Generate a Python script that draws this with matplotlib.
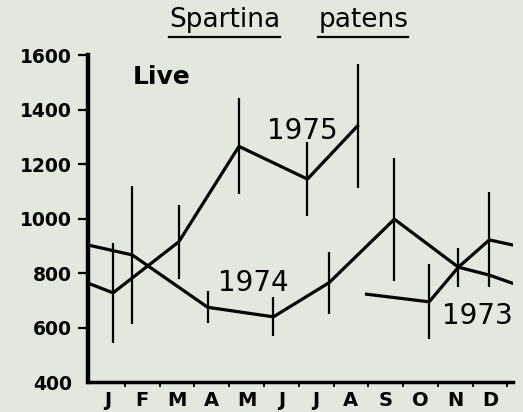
import numpy as np
import matplotlib.pyplot as plt
from matplotlib.lines import Line2D

months = ['J', 'F', 'M', 'A', 'M', 'J', 'J', 'A', 'S', 'O', 'N', 'D']

# sampling dates as fractional months from Jan 1; values and half error bars
x73 = [7.95, 9.75, 10.59, 11.48, 12.17]
y73 = [723, 695, 822, 922, 903]
e73 = [0, 137, 72, 174, 0]

x74 = [-0.05, 1.21, 3.38, 5.27, 6.87, 8.75, 10.59, 11.48, 12.17]
y74 = [903, 867, 675, 640, 765, 998, 822, 793, 762]
e74 = [0, 252, 58, 72, 113, 225, 0, 0, 0]

x75 = [-0.05, 0.66, 2.55, 4.28, 6.25, 7.69]
y75 = [763, 728, 915, 1265, 1145, 1340]
e75 = [0, 183, 135, 176, 136, 227]

yticks = [400, 600, 800, 1000, 1200, 1400, 1600]

bg = '#e3e7dd'
fig = plt.figure(figsize=(5.23, 4.12), dpi=100)
fig.patch.set_facecolor(bg)
ax = fig.add_axes([0.169, 0.0721, 0.8125, 0.7944])
ax.set_facecolor(bg)

for x, y, e in [(x73, y73, e73), (x74, y74, e74), (x75, y75, e75)]:
    ax.errorbar(x, y, yerr=e, color='black', lw=2.3, elinewidth=1.6, capsize=0)

ax.set_xlim(-0.05, 12.17)
ax.set_ylim(400, 1600)

# year labels
ax.text(6.11, 1292, '1975', ha='center', va='baseline', fontsize=20)
ax.text(4.70, 736, '1974', ha='center', va='baseline', fontsize=20)
ax.text(11.13, 614, '1973', ha='center', va='baseline', fontsize=20)
ax.text(1.23, 1494, 'Live', ha='left', va='baseline', fontsize=18, fontweight='bold')

# axes styling
for s in ['top', 'right']:
    ax.spines[s].set_visible(False)
ax.spines['left'].set_linewidth(3.2)
ax.spines['bottom'].set_linewidth(2.5)

ax.set_yticks(yticks)
ax.set_yticklabels([str(v) for v in yticks], fontsize=13.5, fontweight='bold')
ax.tick_params(axis='y', direction='out', length=7, width=1.6, pad=5)
ax.yaxis.get_major_ticks()[0].tick1line.set_visible(False)

ax.set_xticks(np.arange(1, 13))
ax.set_xticklabels([])
ax.set_xticks(np.arange(12) + 0.5, minor=True)
ax.set_xticklabels(months, minor=True, fontsize=14, fontweight='bold')
ax.tick_params(axis='x', which='major', direction='out', length=3.6, width=1.3)
ax.tick_params(axis='x', which='minor', length=0, pad=6)

# title with underlined words
t1 = fig.text(0.430, 0.934, 'Spartina', ha='center', va='baseline', fontsize=19)
t2 = fig.text(0.695, 0.934, 'patens', ha='center', va='baseline', fontsize=19)
fig.canvas.draw()
r = fig.canvas.get_renderer()
W = fig.bbox.width
for t in [t1, t2]:
    bb = t.get_window_extent(r)
    fig.add_artist(Line2D([bb.x0 / W, bb.x1 / W], [0.911, 0.911],
                          transform=fig.transFigure, color='black', lw=1.6))

fig.savefig('out.png', dpi=100, facecolor=bg)
